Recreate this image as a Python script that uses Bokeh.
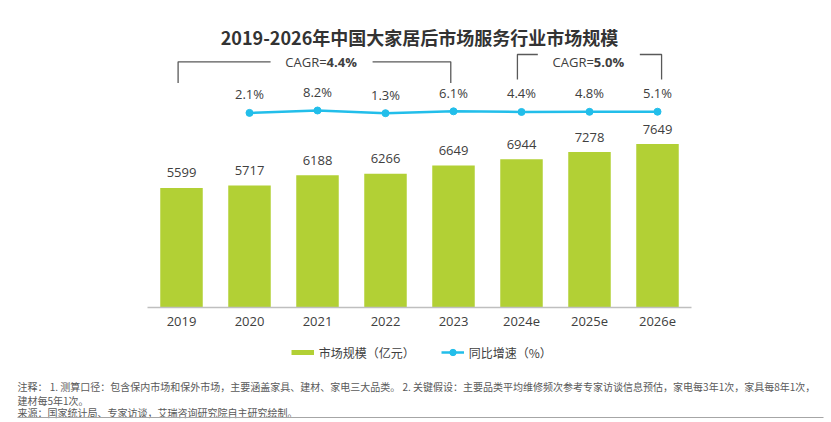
from bokeh.plotting import figure
from bokeh.models import (ColumnDataSource, FactorRange, Range1d, LabelSet, Label,
                          Legend, LegendItem, BoxAnnotation)
from bokeh.core.properties import value
from bokeh.embed import file_html
from bokeh.resources import INLINE

# ---------------- data ----------------
years = ["2019", "2020", "2021", "2022", "2023", "2024e", "2025e", "2026e"]
market_size = [5599, 5717, 6188, 6266, 6649, 6944, 7278, 7649]          # 亿元
growth_years = ["2020", "2021", "2022", "2023", "2024e", "2025e", "2026e"]
growth_pct = [2.1, 8.2, 1.3, 6.1, 4.4, 4.8, 5.1]                          # %
cagr_spans = [("2019", "2023"), ("2024e", "2026e")]
cagr_values = ["4.4%", "5.0%"]
title_text = "2019-2026年中国大家居后市场服务行业市场规模"
legend_labels = ["市场规模（亿元）", "同比增速（%）"]
notes = [
    "注释：  1. 测算口径：包含保内市场和保外市场，主要涵盖家具、建材、家电三大品类。 2. 关键假设：主要品类平均维修频次参考专家访谈信息预估，家电每3年1次，家具每8年1次，",
    "建材每5年1次。",
    "来源：国家统计局、专家访谈，艾瑞咨询研究院自主研究绘制。",
]

# ---------------- styles / layout ----------------
GREEN = "#B2D035"
CYAN = "#22BEEA"
TXT = "#404040"
CJK = "Noto Sans CJK SC"
NUM = "Open Sans"

W, H = 831, 422
FRAME_L = 7                      # frame spans canvas x 7..831, y 0..422
CAT_L, CAT_R = 147, 691          # category band on the canvas
BASE = 307                       # canvas y of the value axis zero
n = len(years)
cat_w = (CAT_R - CAT_L) / n
pad_units = (CAT_L - FRAME_L) * 2 / cat_w
bar_px_per_unit = 0.02136
pct_px = 0.391
pct_zero = 113.2

p = figure(width=W, height=H,
           x_range=FactorRange(*years, range_padding=pad_units / n,
                               range_padding_units="percent"),
           y_range=Range1d(-(H - BASE) / bar_px_per_unit, BASE / bar_px_per_unit),
           output_backend="svg", toolbar_location=None, title=None, tools="",
           y_axis_location=None,
           min_border_left=FRAME_L, min_border_right=0,
           min_border_top=0, min_border_bottom=0)
p.outline_line_color = None
p.grid.visible = False
p.background_fill_color = "white"
p.border_fill_color = "white"

p.extra_y_ranges = {
    "pct": Range1d(-(H - pct_zero) / pct_px, pct_zero / pct_px),
    "cy": Range1d(H, 0),
}

ax = p.xaxis[0]
ax.fixed_location = 0
ax.bounds = (0, n)
ax.axis_line_color = "#BFBFBF"
ax.axis_line_width = 1.5
ax.major_tick_line_color = None
ax.minor_tick_line_color = None
ax.major_tick_in = 0
ax.major_tick_out = 0
ax.major_label_standoff = 9
ax.major_label_text_font = NUM
ax.major_label_text_font_size = "13px"
ax.major_label_text_color = TXT

# bars
src = ColumnDataSource(dict(year=years, size=market_size,
                            label=[str(v) for v in market_size]))
p.vbar(x="year", top="size", width=0.625, source=src,
       fill_color=GREEN, line_color=None)
p.add_layout(LabelSet(x="year", y="size", text="label", source=src,
                      y_offset=15, text_align="center", text_baseline="middle",
                      text_font=value(NUM), text_font_size="13px", text_color=TXT))

# growth line
gsrc = ColumnDataSource(dict(year=growth_years, pct=growth_pct,
                             label=[f"{v:.1f}%" for v in growth_pct]))
ln = p.line("year", "pct", source=gsrc, y_range_name="pct",
            line_color=CYAN, line_width=2.5)
pts = p.scatter("year", "pct", source=gsrc, y_range_name="pct", size=7,
                fill_color=CYAN, line_color=CYAN)
p.add_layout(LabelSet(x="year", y="pct", text="label", source=gsrc,
                      y_range_name="pct", y_offset=18.5,
                      text_align="center", text_baseline="middle",
                      text_font=value(NUM), text_font_size="13px", text_color=TXT))

# CAGR brackets (x in synthetic category coordinates: factor i centred at i+0.5)
bracket_dx = [(-0.05, -0.04), (-0.06, 0.06)]
bracket_top = [61.3, 54.0]
bracket_bot = [82.5, 79.0]
text_cx = [2.56, 6.49]
gap_half = 0.75
xs, ys = [], []
for (a, b), (dl, dr), t, bt, cx in zip(cagr_spans, bracket_dx, bracket_top, bracket_bot, text_cx):
    xl = years.index(a) + 0.5 + dl
    xr = years.index(b) + 0.5 + dr
    xs += [[xl, xl, cx - gap_half], [cx + gap_half, xr, xr]]
    ys += [[bt, t, t], [t, t, bt]]
p.multi_line(xs, ys, y_range_name="cy", line_color="#595959", line_width=1.3)
split = [c + 0.074 for c in text_cx]
p.text(x=split, y=[61, 61], text=["CAGR=", "CAGR="],
       y_range_name="cy", text_align="right", text_baseline="middle",
       text_font=value(NUM), text_font_size="13px", text_color=TXT)
p.text(x=split, y=[61, 61], text=cagr_values,
       y_range_name="cy", text_align="left", text_baseline="middle",
       text_font=value(NUM), text_font_size="13px", text_font_style="bold",
       text_color=TXT)

# title
p.add_layout(Label(x=419 - FRAME_L, y=H - 36, x_units="screen", y_units="screen",
                   text=title_text, text_align="center", text_baseline="middle",
                   text_font=CJK, text_font_size="18px", text_font_style="bold",
                   text_color="#333333"))

# legend (hidden proxy line gives the short thick green swatch)
proxy = p.line(x="year", y="size", source=src, line_color=GREEN, line_width=5,
               visible=False)
legend = Legend(items=[LegendItem(label=legend_labels[0], renderers=[proxy]),
                       LegendItem(label=legend_labels[1], renderers=[ln, pts])],
                location=(290.7 - FRAME_L, H - 360.7), orientation="horizontal",
                glyph_width=23, glyph_height=16, label_height=16,
                label_standoff=5, spacing=26, padding=0, margin=0,
                border_line_color=None, background_fill_alpha=0,
                label_text_font=CJK, label_text_font_size="12px",
                label_text_color=TXT)
p.add_layout(legend)

# notes
for txt, cy in zip(notes, [386, 399.5, 411.5]):
    p.add_layout(Label(x=17 - FRAME_L, y=H - cy, x_units="screen", y_units="screen",
                       text=txt, text_align="left", text_baseline="middle",
                       text_font=CJK, text_font_size="10px", text_color="#595959"))
p.add_layout(BoxAnnotation(left=17, right=823, top=416.5, bottom=417.5,
                           left_units="canvas", right_units="canvas",
                           top_units="canvas", bottom_units="canvas",
                           fill_color="#A6A6A6", fill_alpha=1, line_color=None))

open("out.html", "w").write(file_html(p, INLINE))
